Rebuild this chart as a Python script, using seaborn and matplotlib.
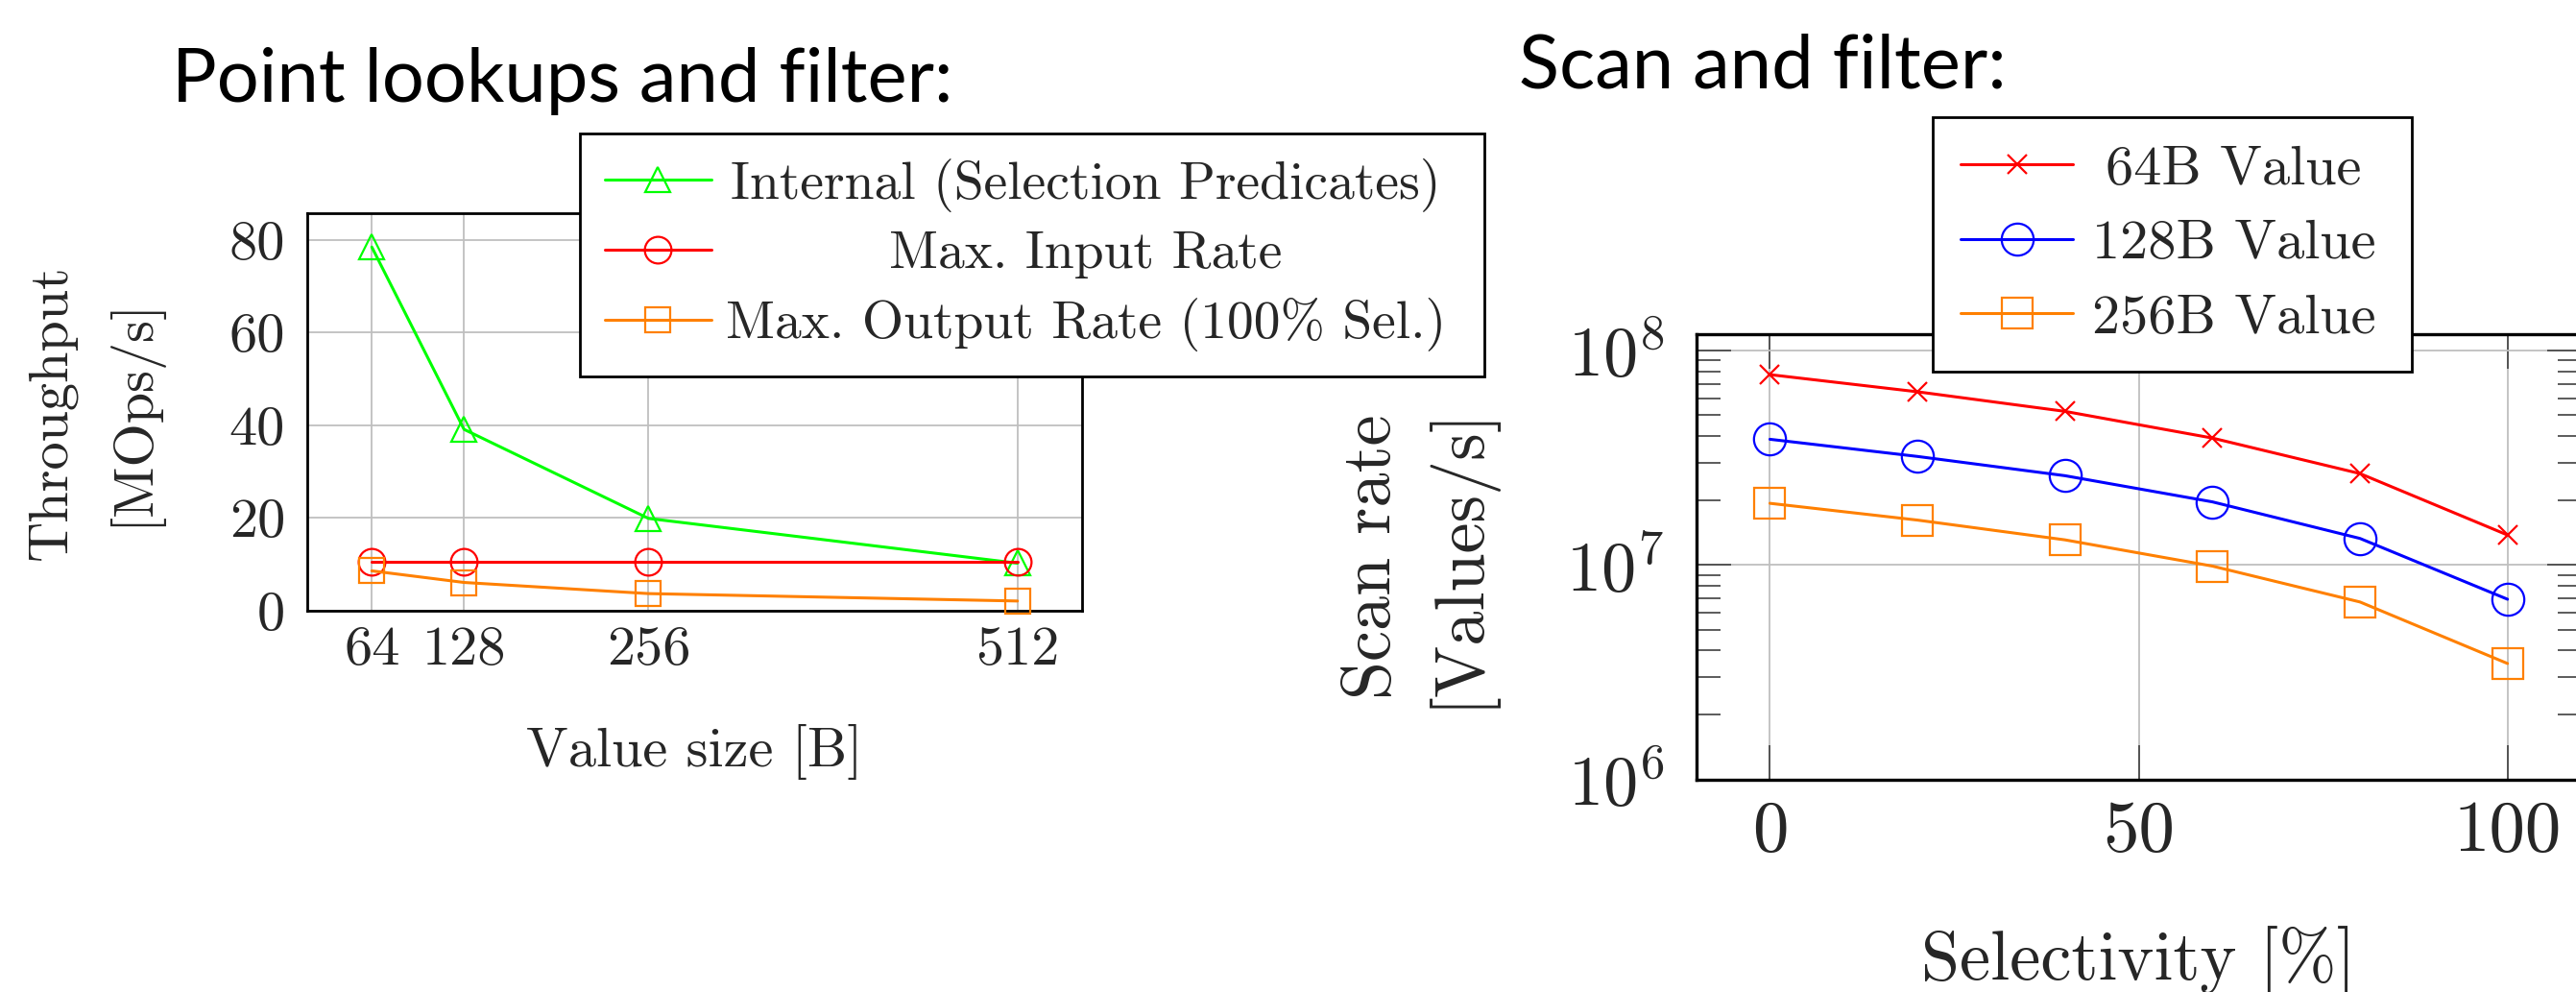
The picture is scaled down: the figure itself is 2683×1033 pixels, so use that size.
import numpy as np
import pandas as pd
import matplotlib
matplotlib.use("Agg")
import matplotlib.pyplot as plt
import seaborn as sns
from matplotlib.ticker import LogLocator, NullFormatter, LogFormatterMathtext

# ---------------- data ----------------
# Left chart: point lookups and filter
value_sizes = [64, 128, 256, 512]
internal_sel = [78.4, 39.1, 19.9, 10.25]
max_input_rate = [10.6, 10.6, 10.6, 10.6]
max_output_rate = [8.6, 6.1, 3.7, 2.1]
left_labels = ["Internal (Selection Predicates)", "Max. Input Rate",
               "Max. Output Rate (100% Sel.)"]
left_yticks = [0, 20, 40, 60, 80]

# Right chart: scan and filter
selectivity = [0, 20, 40, 60, 80, 100]
scan_64 = [7.73e7, 6.43e7, 5.21e7, 3.91e7, 2.67e7, 1.38e7]
scan_128 = [3.86e7, 3.21e7, 2.61e7, 1.97e7, 1.33e7, 6.92e6]
scan_256 = [1.94e7, 1.62e7, 1.31e7, 9.88e6, 6.72e6, 3.47e6]
right_labels = ["64B Value", "128B Value", "256B Value"]
right_xticks = [0, 50, 100]

# ---------------- style ----------------
W, H, DPI = 2683, 1033, 100
sns.set_theme(style="white")
plt.rcParams['font.family'] = ['cmr10', 'DejaVu Sans']
plt.rcParams['mathtext.fontset'] = 'cm'
plt.rcParams['axes.formatter.use_mathtext'] = True

GREEN, RED, ORANGE, BLUE = '#00ff00', '#ff0000', '#ff8000', '#0000ff'
GRID = '#bfbfbf'
LW = 2.2
MEW = 1.6

fig = plt.figure(figsize=(W / DPI, H / DPI), dpi=DPI)
fig.patch.set_facecolor('white')


def px_axes(l, t, r, b):
    return fig.add_axes([l / W, 1 - b / H, (r - l) / W, (b - t) / H])


axL = px_axes(320, 222, 1127, 636)
axR = px_axes(1766.6, 347.5, 2688.5, 811.5)


def series(ax, x, y, color, marker, ms, label):
    sns.lineplot(x=x, y=y, ax=ax, color=color, linewidth=LW, marker=marker,
                 markersize=ms, markerfacecolor='none', markeredgecolor=color,
                 markeredgewidth=MEW, label=label, sort=False, zorder=3,
                 clip_on=False)


# ---------------- left chart ----------------
series(axL, value_sizes, internal_sel, GREEN, '^', 19, left_labels[0])
series(axL, value_sizes, max_input_rate, RED, 'o', 20, left_labels[1])
series(axL, value_sizes, max_output_rate, ORANGE, 's', 19, left_labels[2])

axL.set_xlim(19.2, 556.8)
axL.set_ylim(0, 85.7)
axL.set_xticks(value_sizes, labels=[str(v) for v in value_sizes])
axL.set_yticks(left_yticks, labels=[str(v) for v in left_yticks])
axL.grid(True, color=GRID, linewidth=1.3)
axL.tick_params(axis='both', length=0, labelsize=42)
axL.tick_params(axis='y', pad=16.5)
axL.tick_params(axis='x', pad=11.5)
for s in axL.spines.values():
    s.set_color('black')
    s.set_linewidth(2.0)
axL.set_xlabel("Value size [B]", fontsize=42)
axL.xaxis.set_label_coords(0.5, (636 - 754) / 414)
axL.set_ylabel("Throughput\n[MOps/s]", fontsize=42, linespacing=1.66)
axL.yaxis.set_label_coords(-0.190, 0.5)

legL = axL.legend(loc='upper left',
                  bbox_to_anchor=(604 / W, 1 - 388 / H, 942 / W, 249 / H),
                  bbox_transform=fig.transFigure, mode='expand',
                  borderaxespad=0, fontsize=40, handlelength=2.0,
                  handletextpad=0.27, borderpad=0.46, labelspacing=0.36,
                  frameon=True, fancybox=False, framealpha=1,
                  edgecolor='black', numpoints=1)
legL.get_frame().set_linewidth(2.0)

# ---------------- right chart ----------------
series(axR, selectivity, scan_64, RED, 'x', 15, right_labels[0])
series(axR, selectivity, scan_128, BLUE, 'o', 24, right_labels[1])
series(axR, selectivity, scan_256, ORANGE, 's', 23, right_labels[2])

axR.set_yscale('log')
axR.set_xlim(-10, 110)
axR.set_ylim(1e6, 1.2e8)
axR.set_xticks(right_xticks, labels=[str(v) for v in right_xticks])
axR.yaxis.set_major_locator(LogLocator(base=10, numticks=10))
axR.yaxis.set_major_formatter(LogFormatterMathtext())
axR.yaxis.set_minor_locator(LogLocator(base=10, subs=np.arange(2, 10), numticks=10))
axR.yaxis.set_minor_formatter(NullFormatter())
axR.grid(True, which='major', color=GRID, linewidth=1.3)
axR.tick_params(axis='both', which='both', direction='in', labelsize=52,
                left=True, right=True, top=True, bottom=True,
                color='#404040', width=1.2)
axR.tick_params(which='major', length=26)
axR.tick_params(which='minor', length=18)
axR.tick_params(axis='y', which='major', pad=24)
axR.tick_params(axis='x', which='major', pad=15.5, labelsize=54)
for s in axR.spines.values():
    s.set_color('black')
    s.set_linewidth(2.4)
axR.set_xlabel("Selectivity [%]", fontsize=52)
axR.xaxis.set_label_coords(0.5, (811.5 - 963.8) / 464)
axR.set_ylabel("Scan rate\n[Values/s]", fontsize=52, linespacing=1.34)
axR.yaxis.set_label_coords(-0.2295, 0.5)

legR = axR.legend(loc='upper left',
                  bbox_to_anchor=(2013 / W, 1 - 382.7 / H, 498.7 / W, 261 / H),
                  bbox_transform=fig.transFigure, mode='expand',
                  borderaxespad=0, fontsize=42, handlelength=2.0,
                  handletextpad=0.34, borderpad=0.5, labelspacing=0.44,
                  frameon=True, fancybox=False, framealpha=1,
                  edgecolor='black', numpoints=1)
legR.get_frame().set_linewidth(2.0)

# ---------------- titles ----------------
fig.text(178.6 / W, 1 - 106 / H, "Point lookups and filter:", fontsize=56,
         family='Lato', va='baseline', ha='left', color='black')
fig.text(1581.7 / W, 1 - 91.7 / H, "Scan and filter:", fontsize=56,
         family='Lato', va='baseline', ha='left', color='black')

# center legend texts like pgfplots
fig.canvas.draw()
renderer = fig.canvas.get_renderer()
for leg in (legL, legR):
    texts = leg.get_texts()
    ws = [t.get_window_extent(renderer).width for t in texts]
    m = max(ws)
    for t, w in zip(texts, ws):
        t.set_x((m - w) / 2)

fig.savefig("out.png", dpi=DPI, facecolor='white')
